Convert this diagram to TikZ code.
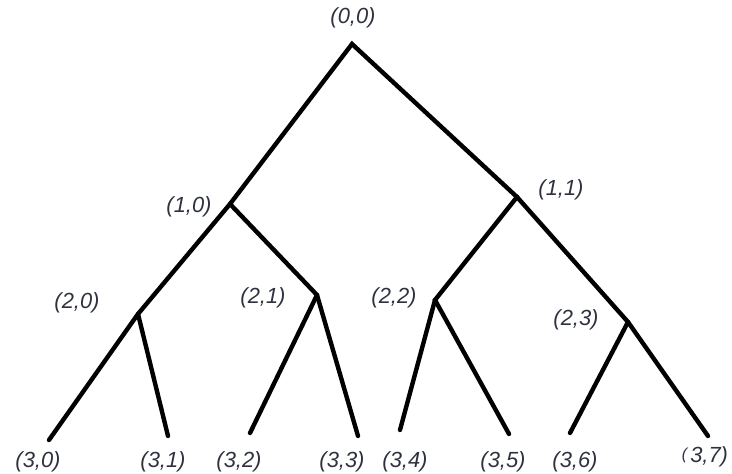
\documentclass[tikz,border=0pt]{standalone}
\usepackage{fontspec}
\setmainfont{Liberation Sans}
\definecolor{lbl}{RGB}{45,50,62}
\begin{document}
\begin{tikzpicture}[x=1bp,y=-1bp,
  br/.style={line width=4.4bp,black,line cap=round},
  lab/.style={inner sep=0pt,text=lbl,font=\fontsize{22}{24}\selectfont\itshape}]
\useasboundingbox (0,0) rectangle (732,474);
% tree points
\coordinate (n00) at (352,44);
\coordinate (n10) at (230,204);
\coordinate (n11) at (517,197);
\coordinate (n20) at (138,314);
\coordinate (n21) at (317,295);
\coordinate (n22) at (435,300);
\coordinate (n23) at (628,322);
\coordinate (n30) at (49,440);
\coordinate (n31) at (168,436);
\coordinate (n32) at (250,433);
\coordinate (n33) at (358,436);
\coordinate (n34) at (400,430);
\coordinate (n35) at (509,434);
\coordinate (n36) at (570,433);
\coordinate (n37) at (708,436);
% branches
\draw[br] (n30) -- (n20) -- (n10) -- (n00) -- (n11) -- (n23) -- (n37);
\draw[br] (n20) -- (n31);
\draw[br] (n10) -- (n21) -- (n33);
\draw[br] (n21) -- (n32);
\draw[br] (n11) -- (n22) -- (n35);
\draw[br] (n22) -- (n34);
\draw[br] (n23) -- (n36);
% labels
\node[lab] (l00) at (353,18) {(0,0)};
\node[lab] (l10) at (189,207) {(1,0)};
\node[lab] (l11) at (561,190) {(1,1)};
\node[lab] (l20) at (77,303) {(2,0)};
\node[lab] (l21) at (263,298) {(2,1)};
\node[lab] (l22) at (394,298) {(2,2)};
\node[lab] (l23) at (576,320) {(2,3)};
\node[lab] (l30) at (38,462) {(3,0)};
\node[lab] (l31) at (163,462) {(3,1)};
\node[lab] (l32) at (239,462) {(3,2)};
\node[lab] (l33) at (342,462) {(3,3)};
\node[lab] (l34) at (405,462) {(3,4)};
\node[lab] (l35) at (503,462) {(3,5)};
\node[lab] (l36) at (575,462) {(3,6)};
\node[lab] (l37) at (705,457) {\raisebox{3bp}{\fontsize{16}{18}\selectfont(}\hspace{3bp}3,7)};
\end{tikzpicture}
\end{document}
